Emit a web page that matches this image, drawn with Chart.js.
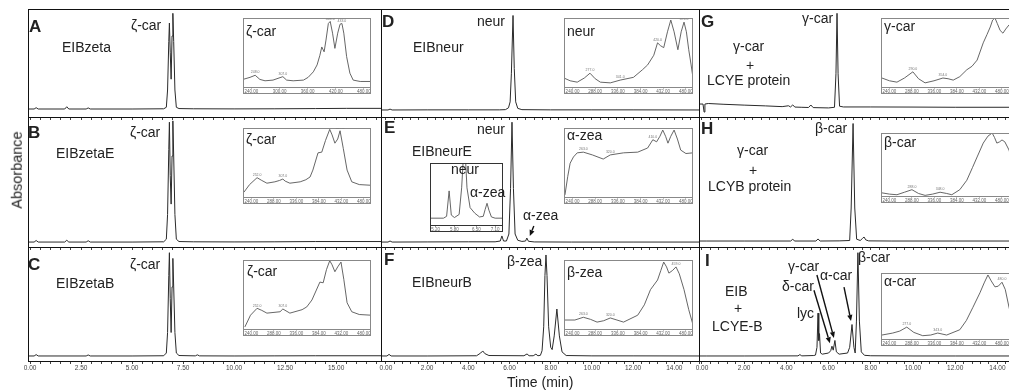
<!DOCTYPE html>
<html>
<head>
<meta charset="utf-8">
<script src="https://cdn.jsdelivr.net/npm/chart.js@4.4.1/dist/chart.umd.min.js"></script>
<style>
  body { margin: 0; width: 1009px; height: 391px; overflow: hidden; background: #fff; position: relative;
         font-family: "Liberation Sans", Arial, sans-serif; color: #222; }
  canvas { position: absolute; }
  .t { position: absolute; white-space: nowrap; line-height: 1; }
</style>
</head>
<body>
<script>
// chromatograms: time (min) and absorbance (% of panel height)
const tA = [-0.1, 0.2, 0.3, 0.4, 1.7, 1.8, 1.9, 2.75, 2.85, 2.95, 5.0, 6.55, 6.68, 6.74, 6.80, 6.83, 6.87, 6.915, 6.96, 7.0, 7.04, 7.10, 7.17, 7.3, 8.0, 10, 12, 14, 15.5, 17.2];
const yA = [7.4, 7.4, 8.6, 7.4, 7.4, 9.5, 7.4, 7.4, 8.4, 7.4, 7.4, 7.6, 9, 25, 70, 87, 60, 35, 75, 96, 70, 25, 9, 7.8, 7.6, 7.5, 7.6, 7.8, 8.0, 8.0];
const tB = [-0.1, 0.2, 0.3, 0.4, 1.7, 1.8, 1.9, 2.75, 2.85, 2.95, 5.0, 6.55, 6.68, 6.74, 6.80, 6.83, 6.87, 6.915, 6.96, 7.0, 7.04, 7.10, 7.17, 7.3, 8.0, 10, 12, 14, 17.2];
const yB = [3.8, 3.8, 5.0, 3.8, 3.8, 5.2, 3.8, 3.8, 4.8, 3.8, 3.8, 4.0, 6, 25, 75, 96, 55, 33, 70, 97, 70, 25, 6, 4.2, 4.0, 3.9, 4.0, 4.2, 4.2];
const tC = [-0.1, 0.2, 0.3, 0.4, 2.75, 2.85, 2.95, 5.0, 6.55, 6.68, 6.74, 6.80, 6.83, 6.87, 6.915, 6.96, 7.0, 7.04, 7.10, 7.17, 7.3, 8.1, 8.2, 8.3, 10, 12, 14, 17.2];
const yC = [4.4, 4.4, 5.6, 4.4, 4.4, 5.3, 4.4, 4.4, 4.6, 7, 25, 75, 95, 55, 25, 65, 90, 65, 25, 7, 4.8, 4.5, 5.4, 4.5, 4.4, 4.5, 4.6, 4.6];
const tD = [-0.24, 0.1, 0.2, 0.3, 2, 4, 5.5, 5.8, 5.95, 6.03, 6.09, 6.17, 6.23, 6.3, 6.4, 6.6, 8, 10, 12, 15.2];
const yD = [6.5, 6.5, 7.3, 6.5, 6.6, 6.6, 6.6, 6.8, 8.5, 14, 40, 94, 45, 14, 8, 6.8, 6.6, 6.6, 6.6, 6.5];
const tE = [-0.24, 0.1, 0.2, 0.3, 2, 4, 5.3, 5.55, 5.63, 5.71, 5.85, 5.97, 6.05, 6.12, 6.19, 6.27, 6.4, 6.6, 6.78, 6.84, 6.92, 7.2, 9, 12, 15.2];
const yE = [3.8, 3.8, 4.6, 3.8, 3.9, 4.0, 4.0, 4.6, 8.5, 4.6, 4.6, 10, 45, 96, 45, 10, 5.2, 4.3, 4.6, 6.9, 4.4, 3.9, 3.8, 3.8, 3.8];
const tF = [-0.24, 0.05, 0.15, 0.25, 2, 4.4, 4.6, 4.7, 4.8, 5.0, 6.7, 6.85, 6.95, 7.15, 7.28, 7.38, 7.5, 7.58, 7.66, 7.72, 7.77, 7.82, 7.9, 8.0, 8.07, 8.17, 8.3, 8.42, 8.55, 8.75, 10, 12, 15.2];
const yF = [4.4, 4.4, 5.8, 4.4, 4.4, 4.6, 7, 8.8, 6.5, 4.8, 4.6, 6.2, 4.6, 4.6, 6.0, 4.6, 5, 9, 30, 75, 93, 75, 30, 12, 10, 22, 45.6, 22, 8, 4.8, 4.5, 4.5, 4.4];
const tG = [-0.14, 0.05, 0.1, 0.14, 0.3, 1, 2, 3, 3.8, 4.1, 4.2, 4.3, 4.4, 4.7, 5.05, 5.16, 5.27, 6.0, 6.28, 6.35, 6.4, 6.45, 6.52, 6.7, 8, 10, 12, 15.1];
const yG = [12, 12, 4.6, 12, 12.5, 11.8, 11, 10.3, 9.6, 10.4, 9.3, 11.2, 9.2, 9, 8.8, 11.1, 8.7, 8.4, 9, 40, 96, 40, 10, 9.3, 9.3, 9.2, 9.0, 9];
const tH = [-0.14, 0.2, 2, 4.2, 4.3, 4.4, 5.4, 5.5, 5.6, 6.5, 7.0, 7.07, 7.16, 7.24, 7.33, 7.5, 7.6, 7.68, 7.76, 7.9, 9, 12, 15.1];
const yH = [4.6, 4.6, 4.6, 4.6, 5.9, 4.6, 4.6, 6.2, 4.6, 4.7, 5, 30, 95, 30, 6, 5, 6.5, 7.7, 5.5, 4.7, 4.6, 4.6, 4.6];
const tI = [-0.14, 0.2, 2, 4.55, 4.64, 4.73, 5.3, 5.38, 5.45, 5.5, 5.535, 5.57, 5.62, 5.7, 6.0, 6.1, 6.16, 6.22, 6.3, 6.37, 6.5, 6.9, 7.0, 7.11, 7.2, 7.26, 7.32, 7.39, 7.46, 7.55, 7.7, 8.0, 10, 12, 15.1];
const yI = [4.4, 4.4, 4.4, 4.5, 5.6, 4.5, 4.8, 5.2, 12, 42, 18, 24, 7, 6, 7, 9, 13, 9.5, 18, 8, 6, 7, 12, 32, 12, 7, 35, 95, 35, 8, 5, 4.6, 4.4, 4.4, 4.4];

// zoomed chromatogram inside panel E
const tMini = [5.02, 5.45, 5.55, 5.63, 5.7, 5.8, 5.95, 6.03, 6.12, 6.2, 6.3, 6.45, 6.6, 6.72, 6.78, 6.84, 6.9, 6.98, 7.1, 7.35];
const yMini = [11, 11, 14, 55, 16, 12, 17, 60, 140, 60, 28, 19, 13, 14, 25, 35, 24, 13, 11, 11];
const miniTicks = [5.20, 5.80, 6.50, 7.10];

// absorption spectra: wavelength (nm) and absorbance (% of inset height)
const sAx = [222, 237, 248, 258, 269, 286, 307, 315, 329, 351, 361, 372, 380, 386, 390, 395, 399, 404, 408, 413, 418, 424, 429, 433, 437, 443, 450, 457, 472, 495];
const sAy = [11, 14, 17, 11, 9, 10, 15, 10, 9, 10, 14, 22, 32, 46, 58, 51, 68, 92, 95, 78, 56, 78, 91, 92, 78, 44, 20, 10, 8, 8];
const sBx = [224, 236, 252, 262, 273, 290, 300, 307, 312, 322, 344, 356, 365, 371, 382, 390, 398, 407, 412, 418, 424, 429, 436, 444, 454, 470, 495];
const sBy = [7, 18, 28, 24, 20, 22, 24, 26, 23, 20, 22, 25, 29, 39, 64, 65, 82, 98, 90, 78, 84, 96, 70, 39, 22, 18, 17];
const sCx = [226, 238, 252, 262, 273, 301, 307, 322, 348, 358, 369, 386, 393, 400, 407, 412, 418, 424, 431, 437, 444, 454, 470, 495];
const sCy = [3, 20, 30, 27, 23, 25, 29, 23, 28, 32, 42, 68, 67, 86, 99, 93, 83, 90, 97, 72, 38, 25, 21, 20];
const sDx = [222, 235, 250, 265, 277, 288, 299, 320, 341, 369, 388, 399, 412, 420, 426, 433, 441, 448, 455, 463, 470, 476, 481, 486, 491, 495];
const sDy = [13, 9, 7, 13, 20, 12, 7, 6, 10, 14, 25, 32, 46, 64, 60, 57, 80, 97, 80, 54, 80, 94, 80, 54, 32, 13];
const sEx = [224, 230, 235, 242, 250, 263, 282, 305, 320, 348, 378, 399, 410, 418, 425, 431, 437, 442, 448, 455, 462, 469, 480, 495];
const sEy = [3, 30, 49, 58, 64, 65, 61, 55, 61, 64, 65, 71, 83, 80, 88, 97, 88, 78, 88, 97, 84, 68, 63, 64];
const sFx = [224, 245, 263, 278, 292, 306, 320, 334, 348, 378, 392, 405, 420, 427, 433, 439, 444, 452, 459, 466, 476, 486, 495];
const sFy = [13, 13, 17, 14, 10, 12, 16, 13, 10, 20, 35, 57, 71, 85, 97, 90, 81, 85, 90, 80, 57, 28, 6];
const sGx = [224, 240, 256, 272, 290, 302, 316, 335, 354, 365, 376, 390, 405, 416, 427, 440, 448, 455, 460, 465, 470, 476, 482, 488, 495, 500, 512];
const sGy = [13, 9, 7, 13, 22, 12, 6, 9, 13, 12, 10, 15, 25, 30, 39, 64, 76, 87, 97, 100, 92, 82, 78, 84, 90, 88, 60];
const sHx = [224, 240, 256, 272, 288, 302, 316, 332, 348, 362, 373, 390, 405, 417, 427, 440, 450, 459, 464, 469, 475, 480, 486, 495, 505, 512];
const sHy = [5, 3, 2, 6, 10, 4, 1, 3, 6, 4, 2, 10, 25, 45, 62, 84, 95, 100, 93, 84, 86, 89, 86, 73, 45, 35];
const sIx = [224, 247, 262, 277, 292, 311, 328, 343, 362, 390, 404, 418, 433, 442, 450, 457, 465, 472, 480, 487, 495, 505, 512];
const sIy = [6, 9, 12, 18, 10, 5, 6, 9, 6, 14, 28, 48, 70, 85, 97, 88, 79, 80, 86, 75, 48, 20, 12];

const nmTicks = [240, 288, 336, 384, 432, 480];
const nmTicksA = [240, 300, 360, 420, 480];

Chart.defaults.font.family = '"Liberation Sans", Arial, sans-serif';

// layout of the 3x3 grid
const cols = [
  { left: 28, right: 381, min: -0.1, max: 17.2, step: 0.5, major: 2.5 },
  { left: 381, right: 699, min: -0.24, max: 15.2, step: 0.4, major: 2 },
  { left: 699, right: 1020, min: -0.14, max: 15.07, step: 0.4, major: 2 }
];
const rows = [{ top: 9, bottom: 117 }, { top: 117, bottom: 247 }, { top: 247, bottom: 361 }];

const frame = (withTop) => ({
  id: 'frame',
  afterDraw(ch) {
    const a = ch.chartArea, g = ch.ctx;
    g.save();
    g.strokeStyle = '#111';
    g.lineWidth = 1;
    g.beginPath();
    const x = Math.round(a.left) + 0.5;
    g.moveTo(x, a.top); g.lineTo(x, a.bottom);
    if (withTop) {
      const y = Math.round(a.top) + 0.5;
      g.moveTo(a.left, y); g.lineTo(a.right, y);
    }
    g.stroke();
    g.restore();
  }
});

const arrowsPlugin = (list) => ({
  id: 'arrows',
  afterDatasetsDraw(ch) {
    if (!list) return;
    const g = ch.ctx, sx = ch.scales.x, sy = ch.scales.y;
    g.save();
    g.strokeStyle = '#111'; g.fillStyle = '#111'; g.lineWidth = 1.4;
    list.forEach(a => {
      const px = sx.getPixelForValue(a.t), py = sy.getPixelForValue(a.v);
      const tx = px + a.tip[0], ty = py + a.tip[1];
      const ox = tx + a.tail[0], oy = ty + a.tail[1];
      const ang = Math.atan2(ty - oy, tx - ox);
      const hl = 6, hw = 2.6;
      const bx = tx - hl * Math.cos(ang), by = ty - hl * Math.sin(ang);
      g.beginPath(); g.moveTo(ox, oy); g.lineTo(bx, by); g.stroke();
      g.beginPath();
      g.moveTo(tx, ty);
      g.lineTo(bx - hw * Math.sin(ang), by + hw * Math.cos(ang));
      g.lineTo(bx + hw * Math.sin(ang), by - hw * Math.cos(ang));
      g.closePath(); g.fill();
    });
    g.restore();
  }
});

function addCanvas(left, top, w, h) {
  const cv = document.createElement('canvas');
  cv.width = w; cv.height = h;
  cv.style.left = left + 'px'; cv.style.top = top + 'px';
  document.body.appendChild(cv);
  return cv;
}

function panel(col, row, xs, ys, arrows) {
  const c = cols[col], r = rows[row];
  const isBottom = row === 2;
  const axisH = isBottom ? 14 : 4;
  const padX = 14, padT = 4;
  const cv = addCanvas(c.left - padX, r.top - padT, c.right - c.left + 2 * padX, r.bottom - r.top + padT + axisH);
  new Chart(cv, {
    type: 'line',
    data: { datasets: [{ data: xs.map((x, i) => ({ x: x, y: ys[i] })), borderColor: '#2a2a2a', borderWidth: 1, pointRadius: 0, tension: 0 }] },
    options: {
      responsive: false, animation: false, events: [],
      layout: { padding: { left: padX, right: padX, top: padT, bottom: 0 } },
      plugins: { legend: { display: false }, tooltip: { enabled: false } },
      scales: {
        x: {
          type: 'linear', min: c.min, max: c.max,
          border: { color: '#111', width: 1 },
          grid: { drawOnChartArea: false, tickLength: 3, color: '#444' },
          ticks: {
            display: isBottom, stepSize: c.step, includeBounds: false, autoSkip: false, maxRotation: 0, padding: 0,
            color: '#444', font: { size: 6.5 },
            callback: v => Math.abs(v / c.major - Math.round(v / c.major)) < 1e-6 ? v.toFixed(2) : ''
          },
          afterFit: s => { s.height = axisH; s.paddingLeft = 0; s.paddingRight = 0; }
        },
        y: { display: false, min: 0, max: 100 }
      }
    },
    plugins: [frame(row === 0), arrowsPlugin(arrows)]
  });
}

function inset(left, top, w, plotH, xs, ys, xmin, xmax, tickVals, peaks, edge) {
  const lab = 7;
  const cv = addCanvas(left, top, w, plotH + lab);
  new Chart(cv, {
    type: 'line',
    data: { datasets: [{ data: xs.map((x, i) => ({ x: x, y: ys[i] })), borderColor: '#555', borderWidth: 0.9, pointRadius: 0, tension: 0 }] },
    options: {
      responsive: false, animation: false, events: [],
      layout: { padding: 0 },
      plugins: { legend: { display: false }, tooltip: { enabled: false } },
      scales: {
        x: {
          type: 'linear', min: xmin, max: xmax,
          border: { color: edge, width: 1 },
          grid: { drawOnChartArea: false, tickLength: 1.5, color: edge },
          ticks: { autoSkip: false, maxRotation: 0, padding: 0.5, color: '#666', font: { size: 4.5 }, callback: v => v.toFixed(2) },
          afterBuildTicks: s => { s.ticks = tickVals.map(v => ({ value: v })); },
          afterFit: s => { s.height = lab; s.paddingLeft = 0; s.paddingRight = 0; }
        },
        y: { display: false, min: 0, max: 100 }
      }
    },
    plugins: [{
      id: 'box',
      beforeDraw(ch) { ch.ctx.save(); ch.ctx.fillStyle = '#fff'; ch.ctx.fillRect(0, 0, ch.width, ch.height); ch.ctx.restore(); },
      afterDraw(ch) {
        const g = ch.ctx;
        g.save(); g.strokeStyle = edge; g.lineWidth = 1;
        g.strokeRect(0.5, 0.5, ch.width - 1, ch.height - 1);
        const meta = ch.getDatasetMeta(0);
        g.fillStyle = '#777'; g.font = '3.5px "Liberation Sans", Arial'; g.textAlign = 'center'; g.textBaseline = 'bottom';
        (peaks || []).forEach(i => { const p = meta.data[i]; g.fillText(xs[i].toFixed(1), p.x, p.y - 1); });
        g.restore();
      }
    }]
  });
}

// main chromatograms
panel(0, 0, tA, yA);
panel(0, 1, tB, yB);
panel(0, 2, tC, yC);
panel(1, 0, tD, yD);
panel(1, 1, tE, yE, [{ t: 6.84, v: 6.9, tip: [3, -2], tail: [4, -10] }]);
panel(1, 2, tF, yF);
panel(2, 0, tG, yG);
panel(2, 1, tH, yH);
panel(2, 2, tI, yI, [
  { t: 6.16, v: 13, tip: [-2, -3], tail: [-16, -53] },
  { t: 6.3, v: 18, tip: [-1, -2.5], tail: [-17, -63] },
  { t: 7.11, v: 32, tip: [-1, -3.5], tail: [-7, -34] }
]);

// spectra insets
inset(243, 18, 128, 69, sAx, sAy, 222, 495, nmTicksA, [2, 6, 18, 23], '#888');
inset(243, 128, 128, 69, sBx, sBy, 222, 495, nmTicks, [2, 7, 17, 21], '#888');
inset(243, 260, 128, 69, sCx, sCy, 222, 495, nmTicks, [2, 6, 14, 18], '#888');
inset(564, 18, 129, 69, sDx, sDy, 222, 495, nmTicks, [4, 8, 13, 17, 21], '#888');
inset(564, 128, 129, 69, sEx, sEy, 222, 495, nmTicks, [5, 8, 12, 15, 19], '#888');
inset(564, 260, 129, 69, sFx, sFy, 222, 495, nmTicks, [2, 6, 14, 18], '#888');
inset(881, 18, 136, 69, sGx, sGy, 222, 512, nmTicks, [4, 8, 19], '#888');
inset(881, 133, 136, 63, sHx, sHy, 222, 512, nmTicks, [4, 8, 17], '#888');
inset(881, 273, 136, 66, sIx, sIy, 222, 512, nmTicks, [3, 7, 14, 18], '#888');
// zoomed chromatogram in E
inset(430, 163, 73, 62, tMini, yMini, 5.02, 7.35, miniTicks, [], '#333');

// texts: [text, left, baseline, size, bold]
const texts = [
  ['A', 29, 32, 17, 1], ['ζ-car', 131, 30, 14], ['EIBzeta', 62, 52, 14], ['ζ-car', 246, 36, 14],
  ['B', 28, 138, 17, 1], ['ζ-car', 130, 137, 14], ['EIBzetaE', 56, 158, 14], ['ζ-car', 246, 144, 14],
  ['C', 28, 270, 17, 1], ['ζ-car', 130, 269, 14], ['EIBzetaB', 56, 288, 14], ['ζ-car', 247, 276, 14],
  ['D', 382, 27, 17, 1], ['neur', 477, 26, 14], ['EIBneur', 413, 52, 14], ['neur', 567, 36, 14],
  ['E', 384, 133, 17, 1], ['neur', 477, 134, 14], ['EIBneurE', 412, 156, 14], ['α-zea', 567, 140, 14],
  ['neur', 451, 174, 14], ['α-zea', 470, 197, 14], ['α-zea', 523, 220, 14],
  ['F', 384, 265, 17, 1], ['β-zea', 507, 266, 14], ['EIBneurB', 412, 287, 14], ['β-zea', 567, 277, 14],
  ['G', 701, 27, 17, 1], ['γ-car', 802, 23, 14], ['γ-car', 733, 51, 14], ['+', 746, 70, 14],
  ['LCYE protein', 707, 85, 14], ['γ-car', 884, 31, 14],
  ['H', 701, 134, 17, 1], ['β-car', 815, 133, 14], ['γ-car', 737, 155, 14], ['+', 749, 175, 14],
  ['LCYB protein', 708, 191, 14], ['β-car', 884, 147, 14],
  ['I', 705, 266, 17, 1], ['β-car', 858, 262, 14], ['γ-car', 788, 271, 14], ['α-car', 820, 280, 14],
  ['δ-car', 782, 291, 14], ['lyc', 797, 318, 14], ['EIB', 725, 296, 14], ['+', 734, 313, 14],
  ['LCYE-B', 712, 331, 14], ['α-car', 884, 286, 14],
  ['Time (min)', 507, 387, 14]
];
texts.forEach(([txt, x, b, s, bold]) => {
  const d = document.createElement('div');
  d.className = 't';
  d.textContent = txt;
  d.style.left = x + 'px';
  d.style.top = (b - 0.847 * s) + 'px';
  d.style.fontSize = s + 'px';
  if (bold) d.style.fontWeight = 'bold';
  document.body.appendChild(d);
});

const yTitle = document.createElement('div');
yTitle.className = 't';
yTitle.textContent = 'Absorbance';
yTitle.style.cssText += 'left:17px;top:170px;font-size:14.5px;transform:translate(-50%,-50%) rotate(-90deg);';
document.body.appendChild(yTitle);
</script>
</body>
</html>
